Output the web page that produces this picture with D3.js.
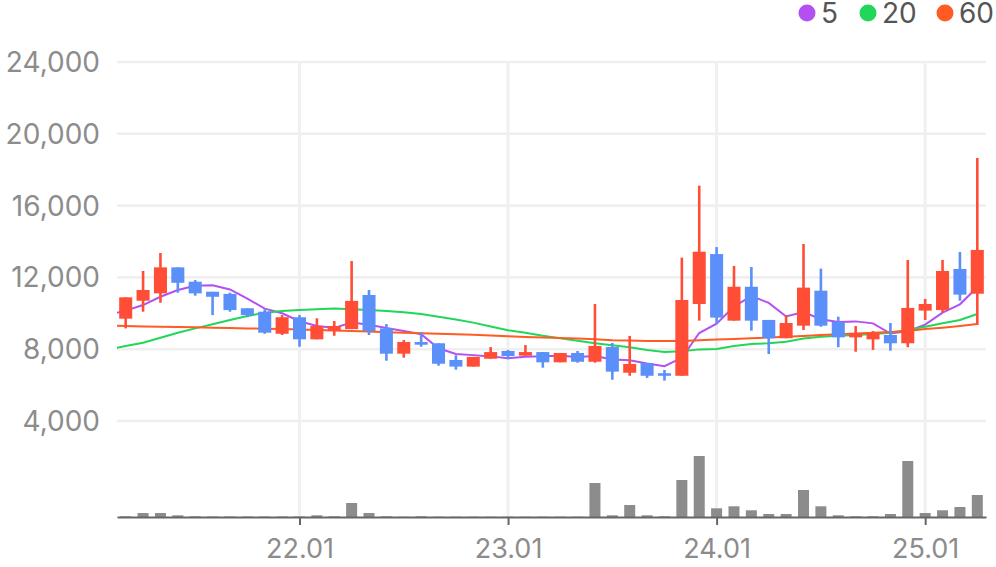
<!DOCTYPE html>
<html>
<head>
<meta charset="utf-8">
<script src="https://cdn.jsdelivr.net/npm/d3@7"></script>
<style>
  body { margin: 0; background: #fff; }
  svg { display: block; font-family: Inter, "Noto Sans", sans-serif; }
</style>
</head>
<body>
<div id="chart"></div>
<script>
// monthly candles, 21.03 .. 25.04
const months = ["21.03","21.04","21.05","21.06","21.07","21.08","21.09","21.10","21.11","21.12",
  "22.01","22.02","22.03","22.04","22.05","22.06","22.07","22.08","22.09","22.10","22.11","22.12",
  "23.01","23.02","23.03","23.04","23.05","23.06","23.07","23.08","23.09","23.10","23.11","23.12",
  "24.01","24.02","24.03","24.04","24.05","24.06","24.07","24.08","24.09","24.10","24.11","24.12",
  "25.01","25.02","25.03","25.04"];

const open  = [9700,10700,11110,12560,11760,11200,11080,10280,10090,8860,
  9780,8550,9010,9120,11020,9160,7750,8400,8330,7400,7030,7470,
  7900,7640,7840,7270,7790,7300,8120,6690,7230,6660,6520,10520,
  13300,9590,11480,9630,8610,9310,11260,9520,8660,8550,8790,8330,
  10150,10180,12470,11090];
const high  = [10890,12360,13360,12560,11850,11200,11150,10280,10220,9900,
  9900,9720,9570,12910,11300,9400,8510,8960,8330,7660,7570,8120,
  7960,8230,7840,7790,7900,10520,8350,8740,7230,6840,13100,17110,
  13690,12640,12580,9630,9900,13860,12490,9810,9290,9010,9460,12970,
  10800,12970,13420,18650];
const low   = [9160,10090,10590,11150,10980,9900,10090,9780,8860,8790,
  8140,8550,8750,9120,8790,7360,7530,8140,7080,6860,7030,7470,
  7440,7640,6970,7270,7250,7250,6300,6520,6400,6250,6520,9590,
  9400,9590,9030,7730,8610,9070,9250,8110,7860,7960,7920,8110,
  9630,10060,10700,9350];
const close = [10890,11300,12560,11700,11110,10920,10180,9900,8920,9780,
  8550,9290,9290,10690,9010,7750,8400,8250,7190,7030,7570,7840,
  7620,7840,7270,7790,7300,8180,6750,7180,6520,6520,10740,13430,
  9760,11480,9590,8610,9460,11430,9310,8660,8890,8900,8330,10300,
  10520,12360,11040,13530];
const volume = [7,40,40,17,7,5,5,5,5,5,
  5,17,7,140,40,7,3,7,3,3,3,3,
  3,3,3,3,3,340,17,120,17,7,370,610,
  87,107,67,30,30,270,107,17,7,7,30,560,
  40,67,100,220];

// moving averages: first value belongs to 21.02 (left of the view, clipped)
const ma5  = [9920,10150,10460,10920,11300,11530,11560,11330,10820,10260,10000,
  9560,9290,9190,9490,9360,9180,9020,8830,8050,7730,7670,7600,
  7500,7580,7610,7640,7570,7620,7430,7390,7200,7050,7520,8900,
  9420,10380,10960,10580,9820,10070,9670,9520,9550,9440,8870,9000,
  9370,10040,10500,11450];
const ma20 = [7990,8180,8360,8640,8920,9160,9390,9630,9850,10030,10130,
  10180,10220,10270,10230,10190,10130,10060,9960,9810,9660,9480,9260,
  9060,8920,8750,8610,8470,8330,8220,8110,7960,7850,7880,7990,
  8010,8180,8290,8330,8420,8600,8700,8750,8790,8850,8920,9070,
  9250,9440,9630,9960];
const ma60 = [9310,9290,9270,9250,9240,9220,9200,9180,9160,9140,9120,
  9100,9070,9040,9010,8980,8950,8920,8890,8860,8830,8800,8760,
  8720,8680,8650,8620,8590,8560,8500,8480,8460,8450,8460,8500,
  8540,8570,8610,8650,8690,8740,8790,8830,8870,8910,8960,9020,
  9120,9200,9290,9400];

const priceTicks = [4000, 8000, 12000, 16000, 20000, 24000];
const xTickLabels = ["22.01", "23.01", "24.01", "25.01"];
const maNames = ["5", "20", "60"];

const width = 996, height = 567;
const plot = { left: 117, right: 986, top: 61, base: 517 };
const upColor = "#ff4d36", downColor = "#5b8ff9";
const maColors = ["#b450f2", "#22d65a", "#ff5b22"];

const n = months.length;
const xScale = d3.scaleLinear().domain([-0.5, n - 0.5]).range([plot.left, plot.right]);
const step = xScale(1) - xScale(0);
const yScale = d3.scaleLinear().domain([4000, 24000]).range([421, 62]);
const volScale = d3.scaleLinear().domain([0, d3.max(volume)]).range([plot.base, plot.base - 61]);

const svg = d3.select("#chart").append("svg")
  .attr("width", width).attr("height", height);

svg.append("clipPath").attr("id", "clip")
  .append("rect")
  .attr("x", plot.left).attr("y", 0)
  .attr("width", plot.right - plot.left).attr("height", plot.base);

// horizontal grid + y labels
svg.append("g").selectAll("line")
  .data(priceTicks).enter().append("line")
  .attr("x1", plot.left).attr("x2", plot.right)
  .attr("y1", d => yScale(d)).attr("y2", d => yScale(d))
  .attr("stroke", "#efefef").attr("stroke-width", 2.6);

svg.append("g").selectAll("text")
  .data(priceTicks).enter().append("text")
  .attr("x", 100).attr("y", d => yScale(d) + 10)
  .attr("text-anchor", "end")
  .attr("fill", "#8c8c8c").style("font-size", "28px")
  .text(d => d3.format(",")(d));

// vertical grid at year ticks
const tickIdx = xTickLabels.map(l => months.indexOf(l));
svg.append("g").selectAll("line")
  .data(tickIdx).enter().append("line")
  .attr("x1", d => xScale(d)).attr("x2", d => xScale(d))
  .attr("y1", plot.top).attr("y2", plot.base)
  .attr("stroke", "#f0f0f0").attr("stroke-width", 3);

// volume bars
svg.append("g").selectAll("rect")
  .data(volume).enter().append("rect")
  .attr("x", (d, i) => xScale(i) - 5.5)
  .attr("width", 11)
  .attr("y", d => volScale(d))
  .attr("height", d => plot.base - volScale(d))
  .attr("fill", "#8c8c8c");

// x axis
const xAxis = svg.append("g")
  .attr("transform", `translate(0, ${plot.base})`)
  .call(d3.axisBottom(xScale).tickValues(tickIdx)
    .tickFormat(i => months[i]).tickSize(8).tickSizeOuter(0).tickPadding(14));
xAxis.select(".domain").attr("stroke", "#666").attr("stroke-width", 2);
xAxis.selectAll(".tick line").attr("stroke", "#666").attr("stroke-width", 2);
xAxis.selectAll(".tick text")
  .attr("fill", "#8c8c8c").style("font-size", "27px")
  .style("font-family", "Inter, sans-serif");

// moving average lines (behind candles)
const line = d3.line()
  .x((d, i) => xScale(i - 1))
  .y(d => yScale(d));

svg.append("g").attr("clip-path", "url(#clip)")
  .selectAll("path")
  .data([ma5, ma20, ma60]).enter().append("path")
  .attr("d", d => line(d))
  .attr("fill", "none")
  .attr("stroke", (d, i) => maColors[i])
  .attr("stroke-width", 2);

// candles
const candles = svg.append("g").selectAll("g")
  .data(months.map((m, i) => ({ i, o: open[i], h: high[i], l: low[i], c: close[i] })))
  .enter().append("g")
  .attr("fill", d => d.c >= d.o ? upColor : downColor);

candles.append("rect")
  .attr("x", d => xScale(d.i) - 1.3).attr("width", 2.6)
  .attr("y", d => yScale(d.h))
  .attr("height", d => yScale(d.l) - yScale(d.h));

candles.append("rect")
  .attr("x", d => xScale(d.i) - step * 0.375).attr("width", step * 0.75)
  .attr("y", d => yScale(Math.max(d.o, d.c)))
  .attr("height", d => Math.max(2, Math.abs(yScale(d.o) - yScale(d.c))));

// legend
const legendX = [807, 868, 945];
const legend = svg.append("g").selectAll("g")
  .data(maNames).enter().append("g")
  .attr("transform", (d, i) => `translate(${legendX[i]}, 13)`);
legend.append("circle").attr("r", 8.5).attr("fill", (d, i) => maColors[i]);
legend.append("text")
  .attr("x", 14).attr("y", 10)
  .attr("fill", "#555").style("font-size", "28px")
  .text(d => d);
</script>
</body>
</html>
